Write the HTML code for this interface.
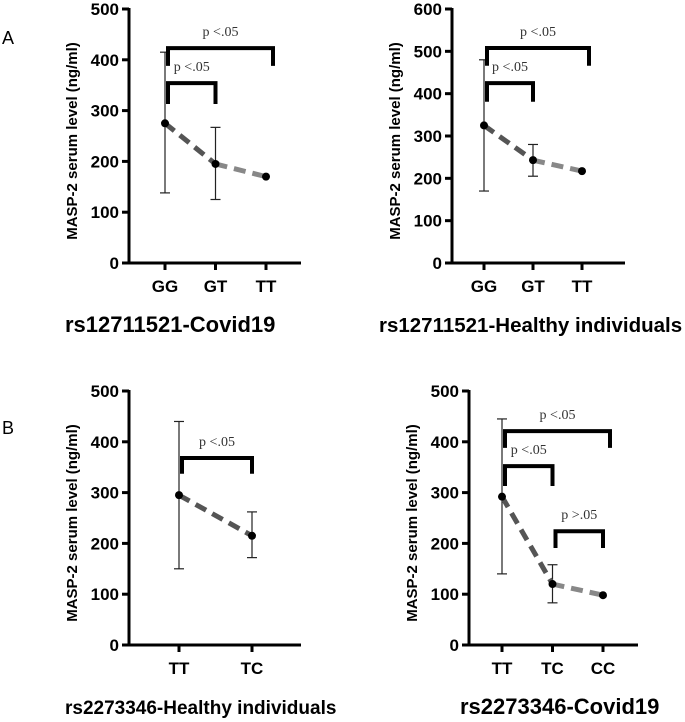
<!DOCTYPE html>
<html><head><meta charset="utf-8"><style>
body{margin:0;background:#fff;}
svg{display:block;font-family:"Liberation Sans",Arial,sans-serif;}
</style></head><body>
<svg id="chart" width="685" height="722" viewBox="0 0 685 722" xmlns="http://www.w3.org/2000/svg">
<text x="2" y="44" font-size="18">A</text>
<text x="2" y="434" font-size="18">B</text>
</svg>
<script>
// Panel data
const p1Cats = ["GG","GT","TT"];
const p1Means = [275, 195, 170];
const p1Lo = [138, 125, null];
const p1Hi = [415, 267, null];
const p1Ticks = [0,100,200,300,400,500];

const p2Cats = ["GG","GT","TT"];
const p2Means = [325, 243, 217];
const p2Lo = [170, 205, null];
const p2Hi = [480, 280, null];
const p2Ticks = [0,100,200,300,400,500,600];

const p3Cats = ["TT","TC"];
const p3Means = [295, 215];
const p3Lo = [150, 172];
const p3Hi = [440, 262];
const p3Ticks = [0,100,200,300,400,500];

const p4Cats = ["TT","TC","CC"];
const p4Means = [292, 120, 98];
const p4Lo = [140, 83, null];
const p4Hi = [445, 158, null];
const p4Ticks = [0,100,200,300,400,500];

// brackets: [fromIdx, toIdx, topValue, legBottomValue, label]
const p1Brackets = [[0,2,423,388,"p <.05"],[0,1,354,313,"p <.05"]];
const p2Brackets = [[0,2,508,466,"p <.05"],[0,1,425,381,"p <.05"]];
const p3Brackets = [[0,1,368,337,"p <.05"]];
const p4Brackets = [[0,2,421,388,"p <.05"],[0,1,352,313,"p <.05"],[1,2,224,191,"p >.05"]];

const NS="http://www.w3.org/2000/svg";
const svg=document.getElementById('chart');
function mk(tag,attrs,parent){const e=document.createElementNS(NS,tag);for(const k in attrs)e.setAttribute(k,attrs[k]);(parent||svg).appendChild(e);return e;}

function panel(id,cfg,cats,means,lo,hi,ticks,brackets,title){
  const g=mk('g',{});
  
  
  const maxV=ticks[ticks.length-1];
  const y=v=>cfg.y0-(v/maxV)*(cfg.y0-cfg.yTop);
  const x=i=>cfg.ax+cfg.off+i*cfg.step;
  const ya=mk('line',{x1:cfg.ax,y1:cfg.yTop-1,x2:cfg.ax,y2:cfg.y0+1.5,stroke:'#000','stroke-width':3},g);
  
  
  const xa=mk('line',{x1:cfg.ax-1.5,y1:cfg.y0,x2:cfg.xEnd,y2:cfg.y0,stroke:'#000','stroke-width':3},g);
  
  
  ticks.forEach(t=>{
    mk('line',{x1:cfg.ax-7,y1:y(t),x2:cfg.ax,y2:y(t),stroke:'#000','stroke-width':3},g);
    const tl=mk('text',{x:cfg.ax-10,y:y(t)+6,'font-size':17,'font-weight':'bold','text-anchor':'end'},g);
    tl.textContent=t;
    
    
  });
  cats.forEach((c,i)=>{
    mk('line',{x1:x(i),y1:cfg.y0,x2:x(i),y2:cfg.y0+7,stroke:'#000','stroke-width':3},g);
    const cl=mk('text',{x:x(i),y:cfg.y0+29,'font-size':17,'font-weight':'bold','text-anchor':'middle'},g);
    cl.textContent=c;
    
    
  });
  const yt=mk('text',{transform:`translate(${cfg.ax-52},${(cfg.y0+cfg.yTop)/2+5}) rotate(-90)`,'font-size':15,'font-weight':'bold','text-anchor':'middle'},g);
  yt.textContent='MASP-2 serum level (ng/ml)';
  
  
  const tt=mk('text',{x:cfg.titleX,y:cfg.y0+69,'font-size':cfg.titleSize,'font-weight':'bold'},g);
  tt.textContent=title;
  
  
  means.forEach((m,i)=>{
    if(lo[i]==null)return;
    mk('line',{x1:x(i),y1:y(hi[i]),x2:x(i),y2:y(lo[i]),stroke:'#222','stroke-width':1.2},g);
    mk('line',{x1:x(i)-5,y1:y(hi[i]),x2:x(i)+5,y2:y(hi[i]),stroke:'#222','stroke-width':1.2},g);
    mk('line',{x1:x(i)-5,y1:y(lo[i]),x2:x(i)+5,y2:y(lo[i]),stroke:'#222','stroke-width':1.2},g);
  });
  for(let i=0;i<means.length-1;i++){
    const s=mk('line',{x1:x(i),y1:y(means[i]),x2:x(i+1),y2:y(means[i+1]),stroke:i==0?'#555':'#888','stroke-width':5,'stroke-dasharray':'12 7'},g);
    
    
  }
  means.forEach((m,i)=>{
    const c=mk('circle',{cx:x(i),cy:y(m),r:4,fill:'#000'},g);
    
    
  });
  brackets.forEach(b=>{
    const x1=x(b[0])+3,x2=x(b[1])+(b[1]==cats.length-1&&b[1]!=b[0]+1?7:0);
    const pth=mk('path',{d:`M${x1},${y(b[3])}V${y(b[2])}H${x2}V${y(b[3])}`,fill:'none',stroke:'#000','stroke-width':4},g);
    
    
    const lt=mk('text',{x:(x1+x2)/2,y:y(b[2])-12,'font-size':14,'font-family':'"Liberation Serif",serif','text-anchor':'middle',fill:'#333'},g);
    lt.textContent=b[4];
    
    
  });
}
panel('panel-a-covid',{ax:129,y0:263,yTop:9,xEnd:301,off:36,step:50.5,titleX:65,titleSize:22},p1Cats,p1Means,p1Lo,p1Hi,p1Ticks,p1Brackets,'rs12711521-Covid19');
panel('panel-a-healthy',{ax:452,y0:263,yTop:9,xEnd:625,off:32,step:49,titleX:379,titleSize:20.5},p2Cats,p2Means,p2Lo,p2Hi,p2Ticks,p2Brackets,'rs12711521-Healthy individuals');
panel('panel-b-healthy',{ax:129,y0:645,yTop:391,xEnd:301,off:50,step:73,titleX:65,titleSize:19},p3Cats,p3Means,p3Lo,p3Hi,p3Ticks,p3Brackets,'rs2273346-Healthy individuals');
panel('panel-b-covid',{ax:469,y0:645,yTop:391,xEnd:638,off:33,step:50.5,titleX:460,titleSize:22},p4Cats,p4Means,p4Lo,p4Hi,p4Ticks,p4Brackets,'rs2273346-Covid19');
</script>
</body></html>
